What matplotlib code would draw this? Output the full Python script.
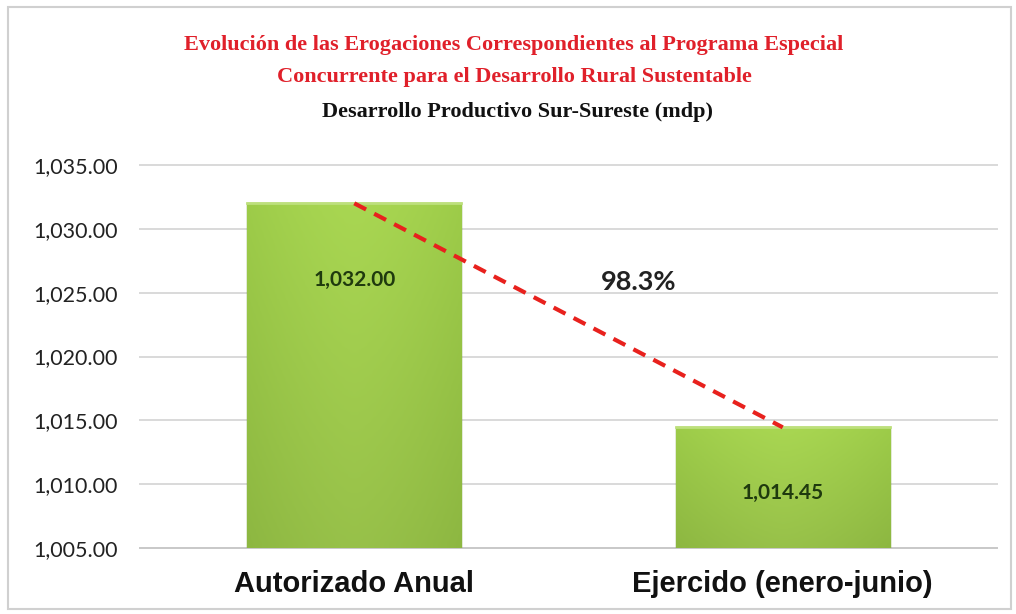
import matplotlib
matplotlib.use("Agg")
import matplotlib.pyplot as plt
import numpy as np
from matplotlib.patches import Rectangle
from matplotlib.ticker import FuncFormatter

categories = ["Autorizado Anual", "Ejercido (enero-junio)"]
values = [1032.00, 1014.45]
value_labels = ["1,032.00", "1,014.45"]
pct_label = "98.3%"
title1 = "Evolución de las Erogaciones Correspondientes al Programa Especial"
title2 = "Concurrente para el Desarrollo Rural Sustentable"
title3 = "Desarrollo Productivo Sur-Sureste (mdp)"
y_ticks = [1005, 1010, 1015, 1020, 1025, 1030, 1035]

W, H = 1016, 614
fig = plt.figure(figsize=(W / 100, H / 100), dpi=100)
fig.patch.set_facecolor("white")

# outer border
fig.add_artist(Rectangle((8 / W, 1 - 609 / H), 1003 / W, 602 / H, transform=fig.transFigure,
                         fill=False, edgecolor="#d0d0d0", linewidth=1.5))

ax = fig.add_axes([140 / W, 1 - 548 / H, 857 / W, (548 - 165) / H])
ax.set_xlim(-0.5, 1.5)
ax.set_ylim(1005, 1035)
for s in ax.spines.values():
    s.set_visible(False)

for t in y_ticks:
    ax.axhline(t, color="#d9d9d9" if t != 1005 else "#c8c8c8", linewidth=1.4, zorder=0, clip_on=False)

x = np.arange(len(categories))
width = 0.5
base = 1005
grad = np.linspace(0, 1, 100)
prof = 1 - 0.35 * np.abs(grad - 0.5) ** 1.5 * 2
light = np.array([0.66, 0.84, 0.32])
dark = np.array([0.48, 0.67, 0.18])
for xi, v in zip(x, values):
    bars = ax.bar(xi, v - base, bottom=base, width=width, color="#98cb45",
                  edgecolor="#6e9530", linewidth=1.0, zorder=2)
    patch = bars[0]
    img = np.zeros((50, 100, 3))
    for i in range(100):
        img[:, i, :] = dark + (light - dark) * prof[i]
    vy = np.linspace(1.0, 0.9, 50)[:, None, None]
    img = np.clip(img * vy, 0, 1)
    im = ax.imshow(img, extent=(xi - width / 2, xi + width / 2, base, v), aspect="auto",
                   zorder=3, origin="upper")
    im.set_clip_path(patch)
    ax.plot([xi - width / 2, xi + width / 2], [v, v], color="#bde07c", linewidth=2, zorder=4)

ax.set_xticks(x)
ax.set_xticklabels(categories, fontfamily="Liberation Sans", fontweight="bold", fontsize=21, color="#111111")
ax.tick_params(axis="x", length=0, pad=16)
ax.set_yticks(y_ticks)
ax.yaxis.set_major_formatter(FuncFormatter(lambda v, p: f"{v:,.2f}"))
ax.tick_params(axis="y", length=0, pad=16, labelsize=15.5, labelcolor="#222222")
for lab in ax.get_yticklabels():
    lab.set_fontfamily("Lato")

# dashed line between bar tops
ax.plot(x, values, color="#e8211d", linestyle=(0, (3.2, 2.2)), linewidth=3, zorder=5)

# value labels
label_y = [1026.0, 1009.3]
for xi, ly, lab in zip(x, label_y, value_labels):
    ax.text(xi, ly, lab, ha="center", va="center", fontfamily="Lato", fontweight="bold",
            fontsize=15, color="#1f3a0e", zorder=6)

ax.text(0.664, 1025.8, pct_label, ha="center", va="center", fontfamily="Lato", fontweight="bold",
        fontsize=19.5, color="#222222", zorder=6)

fig.text(514 / W, 1 - 45 / H, title1, ha="center", va="center", fontfamily="Liberation Serif",
         fontweight="bold", fontsize=16, color="#e0202a")
fig.text(514 / W, 1 - 77 / H, title2, ha="center", va="center", fontfamily="Liberation Serif",
         fontweight="bold", fontsize=16, color="#e0202a")
fig.text(518 / W, 1 - 112 / H, title3, ha="center", va="center", fontfamily="Liberation Serif",
         fontweight="bold", fontsize=16, color="#111111")

fig.savefig("out.png", dpi=100)
